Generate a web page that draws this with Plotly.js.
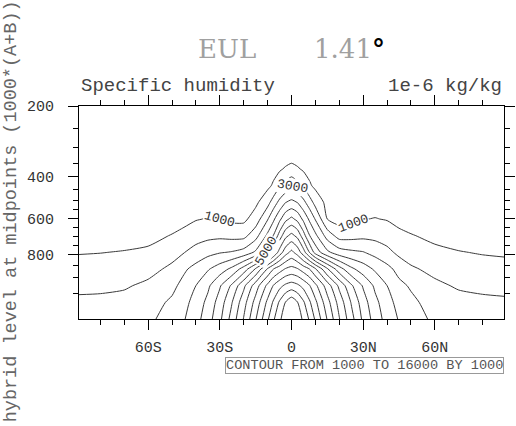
<!DOCTYPE html>
<html>
<head>
<meta charset="utf-8">
<script src="https://cdn.plot.ly/plotly-3.0.1.min.js"></script>
<style>
  html, body { margin: 0; padding: 0; background: #fff; }
  #chart { width: 516px; height: 426px; }
</style>
</head>
<body>
<div id="chart"></div>
<script>
// Latitudes of the grid columns (degrees, S negative)
const lats = [-88.93,-80,-70,-60,-50,-45,-40,-35,-30,-25,-20,-15,-10,-7.5,-5,-2.5,0,2.5,5,7.5,10,15,20,25,30,35,40,45,50,60,70,80,88.93];
// Hybrid level midpoints (1000*(A+B)) of the grid rows
const levels = [192.54,226.51,266.48,313.50,368.82,433.90,510.46,600.52,696.80,787.70,867.16,929.65,970.55,992.56];
// Specific humidity (1e-6 kg/kg), one row per level, one value per latitude
const q = [
  [10,12,14,15,18,24,30,35,35,35,38,42,55,60,65,68,70,68,65,60,55,42,38,35,35,35,30,24,18,16,14,12,11],
  [19,20,23,25,30,38,50,57,57,57,62,70,90,100,110,118,120,118,110,100,90,70,62,57,57,57,50,38,30,26,23,20,19],
  [30,32,37,40,50,62,85,95,95,93,100,115,145,160,175,185,190,185,175,160,145,115,100,93,95,95,85,62,50,42,37,31,30],
  [50,52,60,65,80,100,140,150,150,150,160,180,220,245,270,290,300,290,270,245,220,180,160,150,150,150,140,100,80,68,60,50,48],
  [80,85,95,105,130,170,250,320,310,300,320,400,560,680,850,1130,1370,1130,850,680,560,400,320,300,310,320,250,170,130,110,95,80,78],
  [130,135,150,170,205,270,390,460,450,430,450,560,780,1143,1857,2300,2710,2300,1857,1143,780,540,420,410,440,450,380,265,200,180,150,130,125],
  [210,220,240,270,330,440,600,680,650,600,580,800,1645,2483,3278,3972,4240,3972,3278,2483,1645,700,500,520,620,660,600,440,320,285,240,205,200],
  [330,350,390,430,520,700,940,1050,990,790,780,1450,2923,3836,4762,5713,6230,5713,4762,3836,2923,990,650,780,970,1030,950,690,500,460,390,320,310],
  [531,567,624,688,1053,1300,1571,1740,1786,1694,1698,2620,4226,5053,6427,7732,8280,7732,6427,5053,4226,2571,1590,1633,1750,1706,1480,1250,1066,742,617,515,500],
  [946,979,1046,1183,1645,1967,2381,2700,2931,3067,3375,4170,5600,7000,8444,9577,10260,9577,8444,7000,5600,4208,3455,3200,3050,2670,2294,1750,1577,1247,1042,937,881],
  [1361,1391,1468,1678,2213,2841,3330,3900,4500,5222,6429,8120,10107,11000,11556,12080,12310,12080,11556,11000,10107,8120,6429,5222,4500,3850,3290,2680,2128,1752,1468,1359,1305],
  [1776,1803,1890,2200,2745,3320,4000,4800,5889,7156,8767,10500,12241,13075,13700,14200,14440,14200,13700,13075,12241,10500,8767,7156,5889,4800,4000,3250,2880,2189,1893,1781,1729],
  [2191,2214,2312,2560,3168,3700,4380,5267,6447,7935,9600,11370,13222,14160,15143,16036,16700,16036,15143,14160,13222,11370,9600,7935,6447,5267,4380,3650,3230,2560,2300,2203,2153],
  [2606,2626,2734,2760,3490,3930,4627,5544,6776,8373,10057,11926,13849,14875,15800,16600,17000,16600,15800,14875,13849,11926,10057,8373,6776,5544,4617,3920,3504,2780,2700,2580,2520]
];
// Tick labels
const xTickVals = [-60,-30,0,30,60];
const xTickText = ['60S','30S','0','30N','60N'];
const xMinorVals = [-80,-70,-50,-40,-20,-10,10,20,40,50,70,80];
const yTickLabels = [200,400,600,800];
const yMinorLabels = [250,300,350,450,500,550,650,700,750,850,900,950];
const contourStart = 1000, contourEnd = 16000, contourStep = 1000;
// Contour labels: value, latitude, level
const labelValues = ['1000','1000','3000','5000'];
const labelLats = [-30,26,0.3,-10.3];
const labelLevels = [600.8,627,436.5,780];

// The vertical axis is linear in level index (irregular coordinate)
function levelPos(p) {
  for (let i = 0; i < levels.length - 1; i++) {
    if (p >= levels[i] && p <= levels[i+1]) return i + (p - levels[i]) / (levels[i+1] - levels[i]);
  }
  return p < levels[0] ? 0 : levels.length - 1;
}
const yIdx = levels.map((_, i) => i);

const serif = 'DejaVu Serif';
const mono = 'Liberation Mono';
const trace = {
  type: 'contour',
  x: lats, y: yIdx, z: q,
  autocontour: false,
  contours: { start: contourStart, end: contourEnd, size: contourStep, coloring: 'none', showlabels: false },
  line: { color: '#3a3a3a', width: 1, smoothing: 0.6 },
  showscale: false, hoverinfo: 'skip'
};

const labelAngles = [15,-20,10,-60];
const annotations = labelValues.map((t, i) => ({
  x: labelLats[i], y: levelPos(labelLevels[i]), xref: 'x', yref: 'y',
  text: t, showarrow: false, textangle: labelAngles[i],
  font: { family: mono, size: 13, color: '#333' }, bgcolor: '#fff', borderpad: 0
}));
annotations.push(
  { xref: 'paper', yref: 'paper', x: 0, y: 1.094, xanchor: 'left', yanchor: 'middle', showarrow: false,
    text: 'Specific humidity', font: { family: mono, size: 19, color: '#444' } },
  { xref: 'paper', yref: 'paper', x: 1, y: 1.094, xanchor: 'right', yanchor: 'middle', showarrow: false,
    text: '1e-6 kg/kg', font: { family: mono, size: 19, color: '#444' } },
  { xref: 'paper', yref: 'paper', x: 1, y: -0.18, xanchor: 'right', yanchor: 'top', showarrow: false,
    text: 'CONTOUR FROM 1000 TO 16000 BY 1000', font: { family: mono, size: 13.6, color: '#555' },
    bordercolor: '#999', borderwidth: 1, borderpad: 0, bgcolor: '#fff' },
  { xref: 'paper', yref: 'paper', x: -0.158, y: 0.505, xanchor: 'center', yanchor: 'middle', showarrow: false,
    textangle: -90, text: 'hybrid level at midpoints (1000*(A+B))', font: { family: mono, size: 18.5, color: '#666' } }
);

const layout = {
  width: 516, height: 426,
  margin: { l: 79, r: 12, t: 106, b: 107.3, pad: 0 },
  paper_bgcolor: '#fff', plot_bgcolor: '#fff',
  showlegend: false,
  title: {
    text: 'EUL\u00a0\u00a0\u00a0\u00a0\u00a0\u00a0\u00a01.41<span style="color:#000"><b>°</b></span>',
    font: { family: serif, size: 26, color: '#a0a0a0' },
    x: 0.5, xref: 'paper', xanchor: 'center', y: 1 - 49 / 426, yref: 'container', yanchor: 'middle'
  },
  xaxis: {
    range: [-88.93, 88.93], tickmode: 'array', tickvals: xTickVals, ticktext: xTickText,
    ticks: 'outside', ticklen: 10, tickwidth: 1, tickcolor: '#000',
    showline: true, linecolor: '#000', linewidth: 1, mirror: 'ticks',
    showgrid: false, zeroline: false, ticklabelstandoff: 4,
    tickfont: { family: mono, size: 15, color: '#333' },
    minor: { tickmode: 'array', tickvals: xMinorVals, ticks: 'outside', ticklen: 5, tickwidth: 1, tickcolor: '#000', showgrid: false }
  },
  yaxis: {
    range: [levels.length - 1, levelPos(200)], tickmode: 'array',
    tickvals: yTickLabels.map(levelPos), ticktext: yTickLabels.map(String),
    ticks: 'outside', ticklen: 10, tickwidth: 1, tickcolor: '#000',
    showline: true, linecolor: '#000', linewidth: 1, mirror: 'ticks',
    showgrid: false, zeroline: false, ticklabelstandoff: 11,
    tickfont: { family: mono, size: 15, color: '#333' },
    minor: { tickmode: 'array', tickvals: yMinorLabels.map(levelPos), ticks: 'outside', ticklen: 5, tickwidth: 1, tickcolor: '#000', showgrid: false }
  },
  annotations: annotations
};

Plotly.newPlot('chart', [trace], layout, { staticPlot: true, displayModeBar: false });
</script>
</body>
</html>
